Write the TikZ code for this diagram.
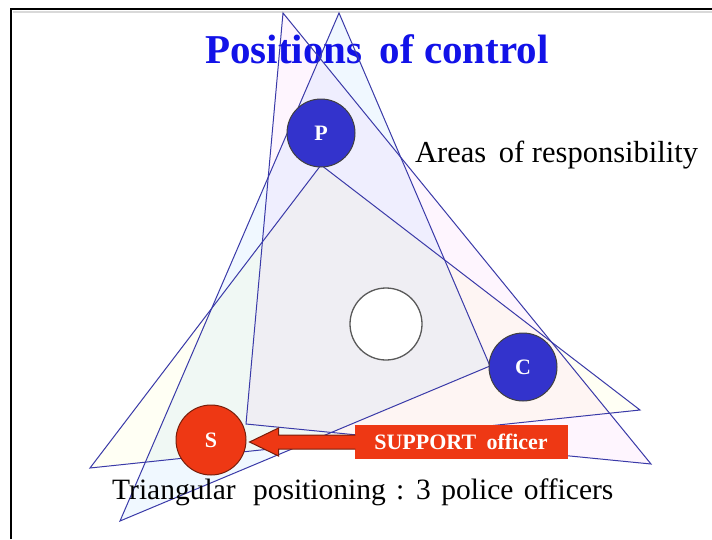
\documentclass[tikz,border=0pt]{standalone}
\usepackage{fontspec}
\setmainfont{LiberationSerif}[Extension=.ttf, UprightFont=*-Regular, BoldFont=*-Bold, ItalicFont=*-Italic, BoldItalicFont=*-BoldItalic]
\usetikzlibrary{calc}
\definecolor{edgeblue}{RGB}{58,58,168}
\definecolor{ptri}{RGB}{255,255,244}
\definecolor{ctri}{RGB}{240,248,255}
\definecolor{stri}{RGB}{254,245,254}
\definecolor{offblue}{RGB}{51,51,204}
\definecolor{offred}{RGB}{238,56,20}
\definecolor{titleblue}{RGB}{18,18,232}
\definecolor{darkred}{RGB}{120,30,10}
\begin{document}
\begin{tikzpicture}[x=1pt,y=-1pt,
  triedge/.style={draw=edgeblue, line width=1pt, line join=miter},
  officer/.style={circle, minimum size=68pt, inner sep=0pt, text=white,
    font=\fontsize{22}{22}\selectfont\bfseries, draw=black!75, line width=1pt},
  centrebox/.style={circle, minimum size=72pt, inner sep=0pt, fill=white, draw=black!65, line width=1.3pt},
  supbox/.style={rectangle, fill=offred, minimum width=213pt, minimum height=34pt, inner sep=0pt,
    text=white, font=\fontsize{22}{22}\selectfont\bfseries},
  sarrow/.style={fill=offred, draw=darkred, line width=1pt, line join=miter},
  titletext/.style={text=titleblue, font=\fontsize{41}{42}\selectfont\bfseries, inner sep=0pt},
  bodytext/.style={text=black, font=\fontsize{29.5}{30}\selectfont, inner sep=0pt},
  areatext/.style={text=black, font=\fontsize{30.5}{31}\selectfont, inner sep=0pt}
]
\useasboundingbox (0,0) rectangle (712,539);
\fill[white] (0,0) rectangle (712,539);
% frame
\draw[black!15, line width=1.5pt] (13,12) -- (712,12);
\draw[line width=2pt] (11,539) -- (11,9) -- (712,9);
% title
\node[titletext, anchor=base west] (title) at (205,63) {Positions\hspace{7pt} of control};
% vertices
\coordinate (A1) at (283,13);
\coordinate (A2) at (339,13);
\coordinate (B1) at (90,468);
\coordinate (B2) at (120,521);
\coordinate (R1) at (640,410);
\coordinate (R2) at (651,464);
\coordinate (Pv) at (321,165);
\coordinate (Cv) at (490,366);
\coordinate (Sv) at (246,424);
% areas
\begin{scope}[blend mode=multiply]
\fill[ptri] (Pv) -- (B1) -- (R1) -- cycle;
\fill[ctri] (Cv) -- (A2) -- (B2) -- cycle;
\fill[stri] (Sv) -- (A1) -- (R2) -- cycle;
\end{scope}
\draw[triedge] (Pv) -- (B1) -- (R1) -- cycle;
\draw[triedge] (Cv) -- (A2) -- (B2) -- cycle;
\draw[triedge] (Sv) -- (A1) -- (R2) -- cycle;
% officers
\node[centrebox] (centre) at (386,324) {};
\node[officer, fill=offblue] (P) at (321,133) {P};
\node[officer, fill=offblue] (C) at (523,367) {C};
\node[officer, fill=offred, draw=darkred, minimum size=70pt] (S) at (211,440) {S};
% support
\node[supbox] (box) at (461,442) {SUPPORT\hspace{5pt} officer};
\draw[sarrow] let \p1=(box.west), \p2=(S.east) in
  (\x1+1pt,\y1+7pt) -- (\x2+32pt,\y1+7pt) -- (\x2+32pt,\y1+14pt) -- (\x2+3pt,\y1)
  -- (\x2+32pt,\y1-14pt) -- (\x2+32pt,\y1-7pt) -- (\x1+1pt,\y1-7pt);
% texts
\node[areatext, anchor=base west] (areas) at (415,162) {Areas\hspace{5pt} of responsibility};
\node[bodytext, anchor=base west] (tri) at (112,499) {Triangular\hspace{10pt} positioning\hspace{3pt} :\hspace{2pt} 3\hspace{3pt} police\hspace{3pt} officers};
\end{tikzpicture}
\end{document}
